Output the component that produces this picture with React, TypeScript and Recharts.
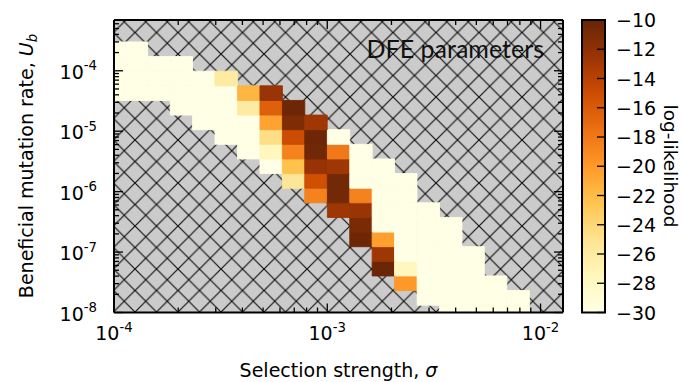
import React from 'react';
import { ComposedChart, XAxis, YAxis, ReferenceArea, ReferenceLine } from 'recharts';

// log10(selection strength) at the centre of each grid column
const logSigma = [
  -4.0, -3.895, -3.789, -3.684, -3.579, -3.474, -3.368, -3.263, -3.158, -3.053,
  -2.947, -2.842, -2.737, -2.632, -2.526, -2.421, -2.316, -2.211, -2.105, -2.0,
];
// log10(beneficial mutation rate) at the centre of each grid row (bottom to top)
const logUb = [
  -8.0, -7.758, -7.516, -7.274, -7.032, -6.79, -6.548, -6.306, -6.064, -5.822,
  -5.58, -5.338, -5.096, -4.854, -4.612, -4.37, -4.128, -3.886, -3.644,
];
// first column index with a value, per row
const rowStart = [15, 14, 13, 12, 12, 11, 11, 10, 9, 8, 7, 6, 5, 4, 3, 0, 0, 0, 0];
// log-likelihood values per row (starting at rowStart)
const rowValues: number[][] = [
  [-30, -30, -30, -30],
  [-30, -30, -30, -30, -30],
  [-20, -30, -30, -30, -30],
  [-10.2, -27.6, -30, -30, -30],
  [-12.8, -30, -30, -30, -30],
  [-10.4, -20.4, -30, -30, -30],
  [-11, -30, -30, -30, -30],
  [-12.8, -12.5, -30, -30, -30],
  [-18.6, -10.6, -18.6, -30, -30],
  [-25.4, -15.2, -10.6, -30, -30, -30],
  [-30, -22.4, -12.4, -12.8, -30, -30],
  [-30, -27.6, -18.6, -10.5, -18, -30],
  [-30, -30, -24.6, -15, -10.4, -30],
  [-30, -30, -30, -20.6, -11.2, -12.8],
  [-30, -30, -30, -26, -16.4, -10.4],
  [-30, -30, -30, -30, -30, -30, -21.6, -12.5],
  [-30, -30, -30, -30, -30, -26],
  [-30, -30, -30, -30],
  [-30, -30],
];

const xDomain = [-4, -1.8947];
const yDomain = [-8, -3.16];
const xMajor = [-4, -3, -2];
const yMajor = [-8, -7, -6, -5, -4];
const minorMult = [2, 3, 4, 5, 6, 7, 8, 9];
const colorbarTicks = [-10, -12, -14, -16, -18, -20, -22, -24, -26, -28, -30];
const cMin = -30;
const cMax = -10;

const YLORBR = ['#ffffe5', '#fff7bc', '#fee391', '#fec44f', '#fe9929', '#ec7014', '#cc4c02', '#993404', '#662506'];

function hexToRgb(h: string) {
  return [parseInt(h.slice(1, 3), 16), parseInt(h.slice(3, 5), 16), parseInt(h.slice(5, 7), 16)];
}
function cmap(v: number) {
  let t = (v - cMin) / (cMax - cMin);
  t = Math.max(0, Math.min(1, t));
  const pos = t * (YLORBR.length - 1);
  const i = Math.min(YLORBR.length - 2, Math.floor(pos));
  const f = pos - i;
  const a = hexToRgb(YLORBR[i]);
  const b = hexToRgb(YLORBR[i + 1]);
  const c = a.map((av, k) => Math.round(av + (b[k] - av) * f));
  return `rgb(${c[0]},${c[1]},${c[2]})`;
}

function buildTicks(lo: number, hi: number) {
  const out: number[] = [];
  for (let n = Math.floor(lo); n <= Math.ceil(hi); n++) {
    if (n >= lo - 1e-9 && n <= hi + 1e-9) out.push(n);
    for (const m of minorMult) {
      const v = n + Math.log10(m);
      if (v >= lo && v <= hi) out.push(v);
    }
  }
  return out;
}
const xTicks = buildTicks(xDomain[0], xDomain[1]);
const yTicks = buildTicks(yDomain[0], yDomain[1]);

const halfW = (logSigma[1] - logSigma[0]) / 2;
const halfH = (logUb[1] - logUb[0]) / 2;

type Cell = { x1: number; x2: number; y1: number; y2: number; v: number; key: string };
const cells: Cell[] = [];
rowValues.forEach((vals, j) => {
  vals.forEach((v, k) => {
    const c = rowStart[j] + k;
    cells.push({
      x1: logSigma[c] - halfW,
      x2: logSigma[c] + halfW,
      y1: logUb[j] - halfH,
      y2: logUb[j] + halfH,
      v,
      key: `${j}-${c}`,
    });
  });
});

const FONT = 'DejaVu Sans';
const FS = 19;
const MARGIN = { top: 20, right: 119, bottom: 0, left: 0 };
const X_AXIS_H = 69.5;
const Y_AXIS_W = 114;
const CHART_W = 682;
const CHART_H = 382;
const PLOT_TOP = MARGIN.top;
const PLOT_RIGHT = CHART_W - MARGIN.right;
const isMajor = (arr: number[], v: number) => arr.some((m) => Math.abs(m - v) < 1e-9);

// bottom axis: tick marks point inward, mirrored on the top spine
function BottomTick(props: any) {
  const { x, y, payload } = props;
  const major = isMajor(xMajor, payload.value);
  const len = major ? 9 : 5;
  return (
    <g>
      <line x1={x} y1={y} x2={x} y2={y - len} stroke="#000" strokeWidth={1.3} />
      <line x1={x} y1={PLOT_TOP} x2={x} y2={PLOT_TOP + len} stroke="#000" strokeWidth={1.3} />
      {major && (
        <text x={x} y={y + 27.5} textAnchor="middle" fontFamily={FONT} fontSize={FS} fill="#000">
          10<tspan dy={-8.5} fontSize={13.3}>{String(Math.round(payload.value))}</tspan>
        </text>
      )}
    </g>
  );
}
// left axis: tick marks point inward, mirrored on the right spine
function LeftTick(props: any) {
  const { x, y, payload } = props;
  const major = isMajor(yMajor, payload.value);
  const len = major ? 9 : 5;
  return (
    <g>
      <line x1={x} y1={y} x2={x + len} y2={y} stroke="#000" strokeWidth={1.3} />
      <line x1={PLOT_RIGHT} y1={y} x2={PLOT_RIGHT - len} y2={y} stroke="#000" strokeWidth={1.3} />
      {major && (
        <text x={x - 17} y={y + 8} textAnchor="end" fontFamily={FONT} fontSize={FS} fill="#000">
          10<tspan dy={-8.5} fontSize={13.3}>{String(Math.round(payload.value))}</tspan>
        </text>
      )}
    </g>
  );
}

const P = 21.5;
const CB = { x: 582, y: 20, w: 23, h: 292.5 };

export default function App() {
  return (
    <div style={{ position: 'absolute', left: 0, top: 0, width: CHART_W, height: CHART_H, background: '#fff' }}>
      <svg width={0} height={0} style={{ position: 'absolute' }}>
        <defs>
          <pattern id="hatch" patternUnits="userSpaceOnUse" width={P} height={P} x={135} y={312}>
            <rect width={P} height={P} fill="#cbcbcb" />
            <path d={`M0,0 L${P},${P} M${P},0 L0,${P}`} stroke="#111" strokeWidth={1.2} />
          </pattern>
          <linearGradient id="cbar" x1="0" y1="1" x2="0" y2="0">
            {YLORBR.map((c, i) => (
              <stop key={c} offset={i / (YLORBR.length - 1)} stopColor={c} />
            ))}
          </linearGradient>
        </defs>
      </svg>
      <ComposedChart width={CHART_W} height={CHART_H} data={cells} margin={MARGIN}>
        <XAxis
          xAxisId={0}
          type="number"
          dataKey="x1"
          domain={xDomain}
          allowDataOverflow
          ticks={xTicks}
          interval={0}
          height={X_AXIS_H}
          tickSize={0}
          tickMargin={0}
          tickLine={false}
          tick={<BottomTick />}
          axisLine={{ stroke: '#000', strokeWidth: 2 }}
        />
        <YAxis
          yAxisId={0}
          type="number"
          dataKey="y1"
          domain={yDomain}
          allowDataOverflow
          ticks={yTicks}
          interval={0}
          width={Y_AXIS_W}
          tickSize={0}
          tickMargin={0}
          tickLine={false}
          tick={<LeftTick />}
          axisLine={{ stroke: '#000', strokeWidth: 2 }}
        />
        <ReferenceArea
          xAxisId={0}
          yAxisId={0}
          x1={xDomain[0]}
          x2={xDomain[1]}
          y1={yDomain[0]}
          y2={yDomain[1]}
          fill="url(#hatch)"
          fillOpacity={1}
          stroke="none"
          ifOverflow="hidden"
        />
        {cells.map((c) => (
          <ReferenceArea
            key={c.key}
            xAxisId={0}
            yAxisId={0}
            x1={c.x1}
            x2={c.x2}
            y1={c.y1}
            y2={c.y2}
            fill={cmap(c.v)}
            fillOpacity={1}
            stroke={cmap(c.v)}
            strokeWidth={0.9}
            ifOverflow="hidden"
          />
        ))}
        <ReferenceLine xAxisId={0} yAxisId={0} y={yDomain[1]} stroke="#000" strokeWidth={2} ifOverflow="visible" />
        <ReferenceLine xAxisId={0} yAxisId={0} x={xDomain[1]} stroke="#000" strokeWidth={2} ifOverflow="visible" />
      </ComposedChart>
      <svg
        width={CHART_W}
        height={CHART_H}
        style={{ position: 'absolute', left: 0, top: 0, pointerEvents: 'none' }}
      >
        <text x={544} y={58} textAnchor="end" fontFamily="Lato" fontSize={25} fill="#111">
          DFE parameters
        </text>
        <text x={338.5} y={377} textAnchor="middle" fontFamily={FONT} fontSize={FS} fill="#000">
          Selection strength, <tspan fontStyle="italic">σ</tspan>
        </text>
        <text
          transform="translate(33,166) rotate(-90)"
          textAnchor="middle"
          fontFamily={FONT}
          fontSize={FS}
          fill="#000"
        >
          Beneficial mutation rate, <tspan fontStyle="italic">U</tspan>
          <tspan fontStyle="italic" fontSize={13.3} dy={4}>b</tspan>
        </text>
        <rect x={CB.x} y={CB.y} width={CB.w} height={CB.h} fill="url(#cbar)" stroke="#000" strokeWidth={2} />
        {colorbarTicks.map((t) => {
          const yy = CB.y + ((cMax - t) / (cMax - cMin)) * CB.h;
          return (
            <g key={t}>
              <line x1={CB.x + CB.w - 8} x2={CB.x + CB.w} y1={yy} y2={yy} stroke="#000" strokeWidth={1.3} />
              <text x={CB.x + CB.w + 11} y={yy + 7} fontFamily={FONT} fontSize={FS} fill="#000">
                {'\u2212' + String(Math.abs(t))}
              </text>
            </g>
          );
        })}
        <text
          transform="translate(664,166) rotate(90)"
          textAnchor="middle"
          fontFamily={FONT}
          fontSize={18.5}
          fill="#000"
        >
          log-likelihood
        </text>
      </svg>
    </div>
  );
}
